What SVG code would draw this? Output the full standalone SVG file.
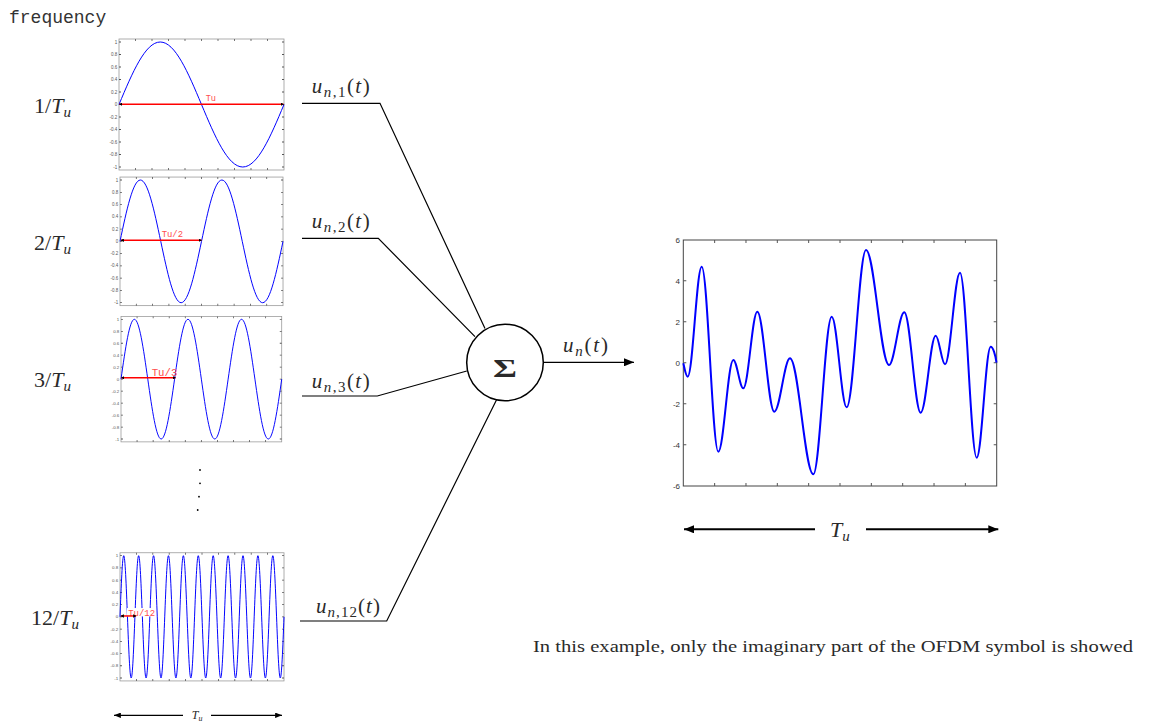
<svg xmlns="http://www.w3.org/2000/svg" xmlns:xlink="http://www.w3.org/1999/xlink" width="1151" height="725" viewBox="0 0 1151 725">
<style>
.lbl{font-family:"Liberation Serif","Times New Roman",serif;fill:#2a2a2a}
.it{font-style:italic}
.mono{font-family:"Liberation Mono","Courier New",monospace;fill:#333}
.tk{font-family:"Liberation Sans",Arial,sans-serif;font-size:4.5px;fill:#555;text-anchor:end}
.bt{font-family:"Liberation Sans",Arial,sans-serif;font-size:8px;fill:#333;text-anchor:end}
.sig{fill:none;stroke:#0000ff;stroke-width:1}
.red{stroke:#ff0000;stroke-width:1.5;marker-start:url(#sa);marker-end:url(#sa)}
.rt{font-family:"Liberation Mono","Courier New",monospace;fill:#ff4d4d}
.con{fill:none;stroke:#000;stroke-width:1.2}
.tick{fill:none;stroke:#555}
</style>
<defs>
<marker id="sa" viewBox="0 0 6 6" refX="5" refY="3" markerWidth="3.5" markerHeight="3.5" markerUnits="userSpaceOnUse" orient="auto-start-reverse"><path d="M0,0 L6,3 L0,6 z" fill="#000"/></marker>
<marker id="ba" viewBox="0 0 10 8" refX="10" refY="4" markerWidth="10" markerHeight="8" markerUnits="userSpaceOnUse" orient="auto-start-reverse"><path d="M0,0 L10,4 L0,8 z" fill="#000"/></marker>
<marker id="ma" viewBox="0 0 10 8" refX="10" refY="4" markerWidth="7" markerHeight="5.5" markerUnits="userSpaceOnUse" orient="auto-start-reverse"><path d="M0,0 L10,4 L0,8 z" fill="#000"/></marker>
<g id="ax">
<rect x="0" y="0" width="165" height="131" fill="#fff" stroke="#999" stroke-width="0.8"/>
<line class="tick" x1="1" y1="2.6" x2="1" y2="128.4" stroke-width="2" stroke-dasharray="0.8 11.7"/>
<line class="tick" x1="164" y1="2.6" x2="164" y2="128.4" stroke-width="2" stroke-dasharray="0.8 11.7"/>
<line class="tick" x1="16.1" y1="130" x2="148.9" y2="130" stroke-width="2" stroke-dasharray="0.8 15.7"/>
<line class="tick" x1="16.1" y1="1" x2="148.9" y2="1" stroke-width="2" stroke-dasharray="0.8 15.7"/>
<text class="tk" x="-1.8" y="4.6">1</text>
<text class="tk" x="-1.8" y="17.1">0.8</text>
<text class="tk" x="-1.8" y="29.6">0.6</text>
<text class="tk" x="-1.8" y="42.1">0.4</text>
<text class="tk" x="-1.8" y="54.6">0.2</text>
<text class="tk" x="-1.8" y="67.1">0</text>
<text class="tk" x="-1.8" y="79.6">-0.2</text>
<text class="tk" x="-1.8" y="92.1">-0.4</text>
<text class="tk" x="-1.8" y="104.6">-0.6</text>
<text class="tk" x="-1.8" y="117.1">-0.8</text>
<text class="tk" x="-1.8" y="129.6">-1</text>
</g>
</defs>
<rect width="1151" height="725" fill="#fff"/>

<g id="freq-label"><text class="mono" x="9" y="23" font-size="18">frequency</text></g>

<g id="connectors">
<polyline class="con" points="302,103.3 380,103.3 485,328.5"/>
<polyline class="con" points="302,238.3 378.3,238.3 475,336.7"/>
<polyline class="con" points="302,396 377.3,396 466.8,371"/>
<polyline class="con" points="300,621 386.7,621 496.7,399.5"/>
<line class="con" x1="543.3" y1="362.3" x2="634" y2="362.3" marker-end="url(#ba)"/>
</g>

<g id="sub1">
<text class="lbl" x="34" y="112.5" font-size="22">1/<tspan class="it">T</tspan><tspan class="it" font-size="15" dy="4">u</tspan></text>
<g transform="translate(119,39)">
<use xlink:href="#ax" href="#ax"/>
<path class="sig" d="M0,65.5 c13.45,-32.02 26.32,-62.5 41.25,-62.5 s27.8,30.48 41.25,62.5 s26.32,62.5 41.25,62.5 s27.8,-30.48 41.25,-62.5"/>
<text class="rt" x="86.7" y="61.7" font-size="8.6">Tu</text>
<line class="red" x1="0.5" y1="65.3" x2="164.5" y2="65.3"/>
</g>
<text class="lbl" x="311.7" y="93.3" font-size="21" textLength="58"><tspan class="it">u</tspan><tspan class="it" font-size="15" dy="4">n</tspan><tspan font-size="15">,1</tspan><tspan dy="-4">(</tspan><tspan class="it">t</tspan>)</text>
</g>

<g id="sub2">
<text class="lbl" x="34" y="249.5" font-size="22">2/<tspan class="it">T</tspan><tspan class="it" font-size="15" dy="4">u</tspan></text>
<g transform="translate(120,177.06) scale(0.988,0.9816)">
<use xlink:href="#ax" href="#ax"/>
<path class="sig" d="M0,65.5 c6.726,-32.02 13.161,-62.5 20.625,-62.5 s13.899,30.48 20.625,62.5 s13.161,62.5 20.625,62.5 s13.899,-30.48 20.625,-62.5 s13.161,-62.5 20.625,-62.5 s13.899,30.48 20.625,62.5 s13.161,62.5 20.625,62.5 s13.899,-30.48 20.625,-62.5"/>
<text class="rt" x="42.2" y="60.8" font-size="9">Tu/2</text>
<line class="red" x1="1" y1="64.4" x2="82.5" y2="64.4"/>
</g>
<text class="lbl" x="311.7" y="228.3" font-size="21" textLength="58"><tspan class="it">u</tspan><tspan class="it" font-size="15" dy="4">n</tspan><tspan font-size="15">,2</tspan><tspan dy="-4">(</tspan><tspan class="it">t</tspan>)</text>
</g>

<g id="sub3">
<text class="lbl" x="34" y="387" font-size="22">3/<tspan class="it">T</tspan><tspan class="it" font-size="15" dy="4">u</tspan></text>
<g transform="translate(121,316.43) scale(0.974,0.9576)">
<use xlink:href="#ax" href="#ax"/>
<path class="sig" d="M0,65.5 c4.484,-32.02 8.774,-62.5 13.75,-62.5 s9.266,30.48 13.75,62.5 s8.774,62.5 13.75,62.5 s9.266,-30.48 13.75,-62.5 s8.774,-62.5 13.75,-62.5 s9.266,30.48 13.75,62.5 s8.774,62.5 13.75,62.5 s9.266,-30.48 13.75,-62.5 s8.774,-62.5 13.75,-62.5 s9.266,30.48 13.75,62.5 s8.774,62.5 13.75,62.5 s9.266,-30.48 13.75,-62.5"/>
<text class="rt" x="31.5" y="62.2" font-size="11">Tu/3</text>
<line class="red" x1="0.5" y1="64" x2="56" y2="64"/>
</g>
<text class="lbl" x="311.7" y="388.3" font-size="21" textLength="58"><tspan class="it">u</tspan><tspan class="it" font-size="15" dy="4">n</tspan><tspan font-size="15">,3</tspan><tspan dy="-4">(</tspan><tspan class="it">t</tspan>)</text>
</g>

<g id="ellipsis">
<circle cx="200" cy="470" r="0.9" fill="#000"/>
<circle cx="200" cy="483.3" r="0.9" fill="#000"/>
<circle cx="199" cy="496.7" r="0.9" fill="#000"/>
<circle cx="197.7" cy="510" r="0.9" fill="#000"/>
</g>

<g id="sub12">
<text class="lbl" x="31" y="625" font-size="22">12/<tspan class="it">T</tspan><tspan class="it" font-size="15" dy="4">u</tspan></text>
<g transform="translate(120,552.76) scale(0.994,0.9784)">
<use xlink:href="#ax" href="#ax"/>
<path class="sig" d="M0,65.5 c1.223,-32.02 2.393,-62.5 3.75,-62.5 s2.527,30.48 3.75,62.5 s2.393,62.5 3.75,62.5 s2.527,-30.48 3.75,-62.5 s2.393,-62.5 3.75,-62.5 s2.527,30.48 3.75,62.5 s2.393,62.5 3.75,62.5 s2.527,-30.48 3.75,-62.5 s2.393,-62.5 3.75,-62.5 s2.527,30.48 3.75,62.5 s2.393,62.5 3.75,62.5 s2.527,-30.48 3.75,-62.5 s2.393,-62.5 3.75,-62.5 s2.527,30.48 3.75,62.5 s2.393,62.5 3.75,62.5 s2.527,-30.48 3.75,-62.5 s2.393,-62.5 3.75,-62.5 s2.527,30.48 3.75,62.5 s2.393,62.5 3.75,62.5 s2.527,-30.48 3.75,-62.5 s2.393,-62.5 3.75,-62.5 s2.527,30.48 3.75,62.5 s2.393,62.5 3.75,62.5 s2.527,-30.48 3.75,-62.5 s2.393,-62.5 3.75,-62.5 s2.527,30.48 3.75,62.5 s2.393,62.5 3.75,62.5 s2.527,-30.48 3.75,-62.5 s2.393,-62.5 3.75,-62.5 s2.527,30.48 3.75,62.5 s2.393,62.5 3.75,62.5 s2.527,-30.48 3.75,-62.5 s2.393,-62.5 3.75,-62.5 s2.527,30.48 3.75,62.5 s2.393,62.5 3.75,62.5 s2.527,-30.48 3.75,-62.5 s2.393,-62.5 3.75,-62.5 s2.527,30.48 3.75,62.5 s2.393,62.5 3.75,62.5 s2.527,-30.48 3.75,-62.5 s2.393,-62.5 3.75,-62.5 s2.527,30.48 3.75,62.5 s2.393,62.5 3.75,62.5 s2.527,-30.48 3.75,-62.5"/>
<rect x="7" y="56.5" width="29" height="8.5" fill="#fff"/>
<text class="rt" x="8.3" y="64.6" font-size="9">Tu/12</text>
<line class="red" x1="1" y1="64.6" x2="16.1" y2="64.6"/>
</g>
<text class="lbl" x="316" y="613" font-size="21" textLength="64"><tspan class="it">u</tspan><tspan class="it" font-size="15" dy="4">n</tspan><tspan font-size="15">,12</tspan><tspan dy="-4">(</tspan><tspan class="it">t</tspan>)</text>
<line class="con" x1="183" y1="715.3" x2="114" y2="715.3" marker-end="url(#ma)"/>
<line class="con" x1="211" y1="715.3" x2="282" y2="715.3" marker-end="url(#ma)"/>
<text class="lbl" x="191.7" y="718.5" font-size="12"><tspan class="it">T</tspan><tspan class="it" font-size="8" dy="2.5">u</tspan></text>
</g>

<g id="sum">
<circle cx="505" cy="362.5" r="38.3" fill="#fff" stroke="#000" stroke-width="1.5"/>
<text class="lbl" x="493" y="376.5" font-size="25" font-weight="bold" textLength="24" lengthAdjust="spacingAndGlyphs">Σ</text>
<text class="lbl" x="563" y="351.7" font-size="21" textLength="45"><tspan class="it">u</tspan><tspan class="it" font-size="15" dy="4">n</tspan><tspan dy="-4">(</tspan><tspan class="it">t</tspan>)</text>
</g>

<g id="ofdm-symbol">
<rect x="683.3" y="240" width="313.4" height="246" fill="#fff" stroke="#444" stroke-width="1"/>
<line class="tick" x1="684.8" y1="280.2" x2="684.8" y2="445.2" stroke-width="3" stroke-dasharray="1 40"/>
<line class="tick" x1="995.2" y1="280.2" x2="995.2" y2="445.2" stroke-width="3" stroke-dasharray="1 40"/>
<line class="tick" x1="714.14" y1="484.5" x2="965.86" y2="484.5" stroke-width="3" stroke-dasharray="1 30.34"/>
<line class="tick" x1="714.14" y1="241.5" x2="965.86" y2="241.5" stroke-width="3" stroke-dasharray="1 30.34"/>
<text class="bt" x="680" y="242.9">6</text>
<text class="bt" x="680" y="283.6">4</text>
<text class="bt" x="680" y="324.6">2</text>
<text class="bt" x="680" y="365.6">0</text>
<text class="bt" x="680" y="406.6">-2</text>
<text class="bt" x="680" y="447.6">-4</text>
<text class="bt" x="680" y="488.9">-6</text>
<path fill="none" stroke="#0000ff" stroke-width="2" d="M683.3,363.3 C684.3,367 685.8,376.7 687.7,376.7 C692.74,376.7 696.66,266.7 701.7,266.7 C707.68,266.7 712.32,451.7 718.3,451.7 C723.7,451.7 727.9,360 733.3,360 C736.9,360 739.7,388.3 743.3,388.3 C748.34,388.3 752.26,311.7 757.3,311.7 C763.42,311.7 768.18,411.7 774.3,411.7 C779.95,411.7 784.35,358.3 790,358.3 C798.39,358.3 804.91,474.3 813.3,474.3 C819.92,474.3 825.08,316.7 831.7,316.7 C837.1,316.7 841.3,407.3 846.7,407.3 C853.65,407.3 859.05,250 866,250 C874.28,250 880.72,365 889,365 C894.51,365 898.79,312.3 904.3,312.3 C910.2,312.3 914.8,412.7 920.7,412.7 C926.1,412.7 930.3,335.7 935.7,335.7 C939.05,335.7 941.65,364.3 945,364.3 C950.4,364.3 954.6,272.7 960,272.7 C966.01,272.7 970.69,457.7 976.7,457.7 C981.74,457.7 985.66,346.7 990.7,346.7 C993,346.7 995.5,355 996.5,362.7"/>
<line x1="815" y1="529.3" x2="684" y2="529.3" stroke="#000" stroke-width="2" marker-end="url(#ba)"/>
<line x1="866" y1="529.3" x2="998.3" y2="529.3" stroke="#000" stroke-width="2" marker-end="url(#ba)"/>
<text class="lbl" x="830" y="537" font-size="22"><tspan class="it">T</tspan><tspan class="it" font-size="15" dy="4">u</tspan></text>
</g>

<g id="note">
<text class="lbl" x="533" y="651.5" font-size="17" textLength="600" lengthAdjust="spacingAndGlyphs">In this example, only the imaginary part of the OFDM symbol is showed</text>
</g>
</svg>
